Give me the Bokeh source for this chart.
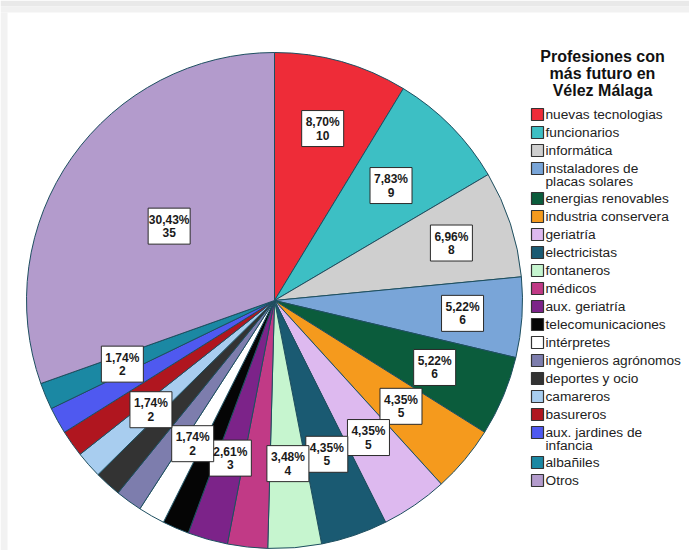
import math
import textwrap
from bokeh.plotting import figure
from bokeh.models import Range1d, ColumnDataSource
from bokeh.embed import file_html
from bokeh.resources import INLINE
from bokeh.core.properties import value

# ---------------- data ----------------
categories = [
    "nuevas tecnologias", "funcionarios", "informática",
    "instaladores de placas solares", "energias renovables",
    "industria conservera", "geriatría", "electricistas", "fontaneros",
    "médicos", "aux. geriatría", "telecomunicaciones", "intérpretes",
    "ingenieros agrónomos", "deportes y ocio", "camareros", "basureros",
    "aux. jardines de infancia", "albañiles", "Otros",
]
counts = [10, 9, 8, 6, 6, 5, 5, 5, 4, 3, 3, 2, 2, 2, 2, 2, 2, 2, 2, 35]
colors = [
    "#ee2c38", "#3dbfc4", "#cfcfcf", "#79a5d8", "#0b5c3c", "#f59a1d",
    "#ddb9ef", "#1a5a72", "#c6f5cf", "#c13a86", "#7c2389", "#050505",
    "#ffffff", "#7d7dad", "#333333", "#a8cdef", "#b0161f", "#4f59f0",
    "#1b88a3", "#b39bcc",
]
# slices that carry a value label (others hidden, as in the original) and
# the radial position of the label as a fraction of the radius
label_radius = {
    "nuevas tecnologias": 0.72, "funcionarios": 0.66, "informática": 0.75,
    "instaladores de placas solares": 0.76, "energias renovables": 0.70,
    "industria conservera": 0.665, "geriatría": 0.67, "electricistas": 0.655,
    "fontaneros": 0.66, "aux. geriatría": 0.66, "intérpretes": 0.665,
    "camareros": 0.665, "albañiles": 0.665, "Otros": 0.52,
}
title_lines = ["Profesiones con", "más futuro en", "Vélez Málaga"]

# ---------------- layout ----------------
W, H = 689, 550
FONT = "Liberation Sans"


def Y(page_y):
    return 550 - page_y


p = figure(width=W, height=H, output_backend="svg", toolbar_location=None,
           x_range=Range1d(0, W), y_range=Range1d(550 - H, 550),
           min_border=0)
p.axis.visible = False
p.grid.visible = False
p.outline_line_color = None
p.background_fill_color = "white"
p.border_fill_color = "white"

# light grey frame strips of the original screenshot
p.quad(left=[0, 0, 0], right=[W, W, 7], top=[Y(0), Y(6), Y(12)],
       bottom=[Y(6), Y(12), Y(550)],
       fill_color=["#e9e9e9", "#f1f1f1", "#f2f2f2"], line_color=None)

CX, CY, R = 274, Y(300), 248
total = sum(counts)

starts, ends, mids = [], [], []
cum = 0
for c in counts:
    a0 = math.pi / 2 - 2 * math.pi * cum / total
    a1 = math.pi / 2 - 2 * math.pi * (cum + c) / total
    starts.append(a0)
    ends.append(a1)
    mids.append((a0 + a1) / 2)
    cum += c

src = ColumnDataSource(dict(start=starts, end=ends, color=colors))
p.wedge(x=CX, y=CY, radius=R, start_angle="start", end_angle="end",
        direction="clock", fill_color="color", line_color="#1e4f60",
        line_width=1, source=src)

# value labels
lx, ly, t1, t2 = [], [], [], []
for cat, c, m in zip(categories, counts, mids):
    if cat not in label_radius:
        continue
    r = label_radius[cat] * R
    lx.append(CX + r * math.cos(m))
    ly.append(CY + r * math.sin(m))
    t1.append(f"{c / total * 100:.2f}".replace(".", ",") + "%")
    t2.append(str(c))

lsrc = ColumnDataSource(dict(x=lx, y=ly, y1=[v + 6.5 for v in ly],
                             y2=[v - 6.5 for v in ly], t1=t1, t2=t2))
p.rect(x="x", y="y", width=42, height=36, fill_color="white",
       line_color="#2a2a2a", line_width=1, source=lsrc)
for col_y, col_t in (("y1", "t1"), ("y2", "t2")):
    p.text(x="x", y=col_y, text=col_t, source=lsrc, text_align="center",
           text_baseline="middle", text_font=value(FONT),
           text_font_size="12px", text_font_style="bold",
           text_color="#1a1a1a")

# title of legend
for i, t in enumerate(title_lines):
    p.text(x=[602], y=[Y(56 + 17 * i)], text=[t], text_align="center",
           text_baseline="middle", text_font=value(FONT),
           text_font_size="16px", text_font_style="bold",
           text_color="#111111")

# legend items
sw_x, sw_y, sw_c = [], [], []
tx, ty, tt = [], [], []
ycur = 114
for cat, col in zip(categories, colors):
    lines = textwrap.wrap(cat, 20)
    sw_x.append(537)
    sw_y.append(Y(ycur))
    sw_c.append(col)
    for k, ln in enumerate(lines):
        tx.append(545)
        ty.append(Y(ycur + 13 * k))
        tt.append(ln)
    ycur += 18 + 12 * (len(lines) - 1)

p.rect(x=sw_x, y=sw_y, width=12, height=12, fill_color=sw_c,
       line_color="#333333", line_width=1.2)
p.text(x=tx, y=ty, text=tt, text_align="left", text_baseline="middle",
       text_font=value(FONT), text_font_size="13.7px", text_color="#222222")

open("out.html", "w").write(file_html(p, INLINE))
